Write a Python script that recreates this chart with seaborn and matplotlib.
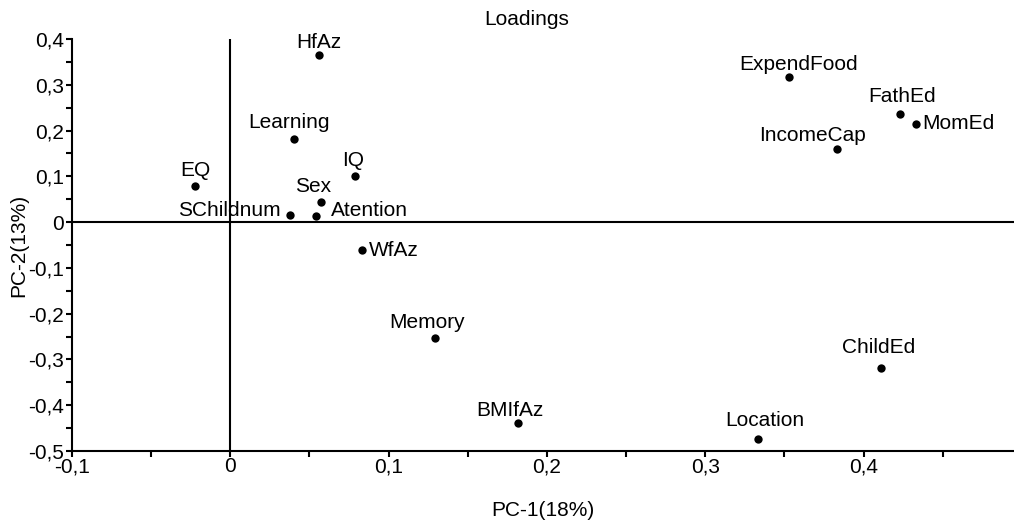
import matplotlib
matplotlib.use("Agg")
import matplotlib.pyplot as plt
import seaborn as sns
import pandas as pd
from matplotlib.ticker import MultipleLocator, FuncFormatter

# PCA loadings
variables = ["HfAz", "Learning", "EQ", "IQ", "Sex", "SChildnum", "Atention", "WfAz",
             "Memory", "BMIfAz", "Location", "ChildEd", "ExpendFood", "FathEd",
             "MomEd", "IncomeCap"]
pc1 = [0.056, 0.040, -0.022, 0.079, 0.057, 0.038, 0.054, 0.083,
       0.129, 0.182, 0.333, 0.411, 0.353, 0.423, 0.433, 0.383]
pc2 = [0.366, 0.182, 0.078, 0.101, 0.043, 0.016, 0.014, -0.061,
       -0.254, -0.438, -0.474, -0.319, 0.317, 0.237, 0.214, 0.159]

df = pd.DataFrame({"variable": variables, "PC1": pc1, "PC2": pc2})

# label placement: (dx px, dy px, ha, va)
label_pos = {
    "HfAz": (0, 7, "center", "baseline"),
    "Learning": (-5, 11, "center", "baseline"),
    "EQ": (0, 10, "center", "baseline"),
    "IQ": (-2, 10, "center", "baseline"),
    "Sex": (-7, 10, "center", "baseline"),
    "SChildnum": (-10, 4, "right", "center"),
    "Atention": (15, 5, "left", "center"),
    "WfAz": (7, 0, "left", "center"),
    "Memory": (-7, 10, "center", "baseline"),
    "BMIfAz": (-9, 7, "center", "baseline"),
    "Location": (7, 13, "center", "baseline"),
    "ChildEd": (-2, 15, "center", "baseline"),
    "ExpendFood": (9, 7, "center", "baseline"),
    "FathEd": (2, 12, "center", "baseline"),
    "MomEd": (6, 1, "left", "center"),
    "IncomeCap": (-24, 8, "center", "baseline"),
}

FS = 15

sns.set_theme(style="ticks", rc={"text.color": "black", "axes.labelcolor": "black",
                                 "xtick.color": "black", "ytick.color": "black",
                                 "axes.edgecolor": "black"})
plt.rcParams["font.family"] = ["Liberation Sans", "DejaVu Sans"]

fig = plt.figure(figsize=(10.14, 5.23), dpi=100)
ax = fig.add_axes([0.071, 0.1377, 0.929, 0.7877])

ax.axhline(0, color="black", lw=1.5, zorder=1)
ax.axvline(0, color="black", lw=1.5, zorder=1)

sns.scatterplot(data=df, x="PC1", y="PC2", color="black", s=36,
                edgecolor="black", linewidth=0, ax=ax, zorder=3)

for _, row in df.iterrows():
    dx, dy, ha, va = label_pos[row["variable"]]
    ax.annotate(row["variable"], (row["PC1"], row["PC2"]), xytext=(dx, dy),
                textcoords="offset pixels", ha=ha, va=va, fontsize=FS,
                color="black")

ax.set_xlim(-0.1, 0.495)
ax.set_ylim(-0.5, 0.4)

comma = FuncFormatter(lambda v, p: ("%g" % round(v, 2)).replace(".", ","))
ax.xaxis.set_major_locator(MultipleLocator(0.1))
ax.xaxis.set_minor_locator(MultipleLocator(0.05))
ax.yaxis.set_major_locator(MultipleLocator(0.1))
ax.yaxis.set_minor_locator(MultipleLocator(0.05))
ax.xaxis.set_major_formatter(comma)
ax.yaxis.set_major_formatter(comma)

ax.tick_params(axis="both", which="both", direction="out", length=4.5,
               width=1.5, color="black", labelcolor="black", labelsize=FS, pad=1)
ax.tick_params(axis="x", which="major", pad=0)

sns.despine(ax=ax)
for side in ["left", "bottom"]:
    ax.spines[side].set_linewidth(1.5)
    ax.spines[side].set_color("black")

ax.set_xlabel("PC-1(18%)", fontsize=FS, labelpad=18, color="black")
ax.set_ylabel("PC-2(13%)", fontsize=FS, labelpad=0, color="black")
ax.set_title("Loadings", fontsize=FS, x=0.483, pad=10, color="black")

fig.savefig("out.png", dpi=100)
